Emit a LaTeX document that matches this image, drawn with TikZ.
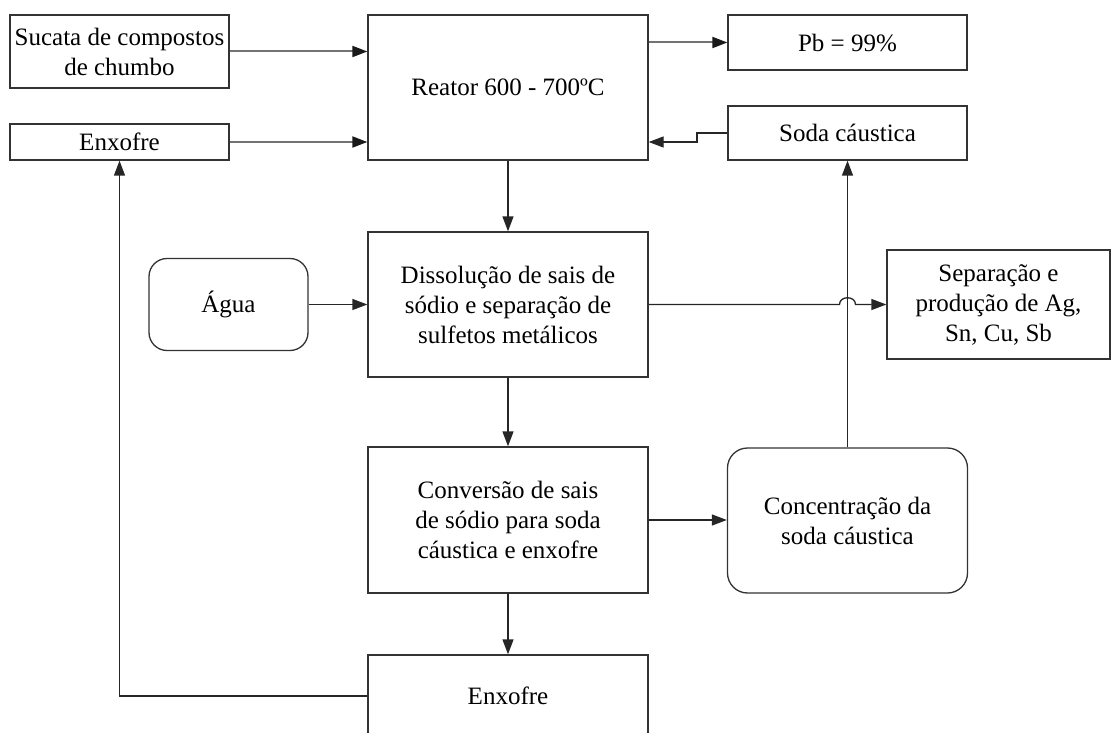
\documentclass[tikz,border=0pt]{standalone}
\usepackage{fontspec}
\setmainfont{Liberation Serif}
\usetikzlibrary{arrows.meta}
\begin{document}
\begin{tikzpicture}[x=1pt,y=-1pt,
  box/.style={draw=black!80, line width=1.3pt, align=center, inner sep=0pt, font=\fontsize{25}{30}\selectfont},
  rbox/.style={box, rounded corners=18pt},
  arr/.style={draw=black!85, line width=1.3pt, -{Triangle[length=15pt,width=11pt]}},
  garr/.style={draw=black!55, line width=2pt, -{Triangle[length=15pt,width=11pt,color=black!90]}},
]
\useasboundingbox (0,0) rectangle (1114,733);
\clip (0,0) rectangle (1114,733);

\node[box, minimum width=219pt, minimum height=73pt] (sucata) at (119.5,51.5) {Sucata de compostos\\de chumbo};
\node[box, minimum width=219pt, minimum height=36pt] (enx1) at (119.5,142) {Enxofre};
\node[box, minimum width=280pt, minimum height=145pt] (reator) at (508,87.5) {Reator 600 - 700ºC};
\node[box, minimum width=239pt, minimum height=55pt] (pb) at (847.5,42.5) {Pb = 99\%};
\node[box, minimum width=239pt, minimum height=54pt] (soda) at (847.5,133) {Soda cáustica};
\node[rbox, minimum width=159pt, minimum height=92pt] (agua) at (228.5,304.5) {Água};
\node[box, minimum width=280pt, minimum height=145pt] (diss) at (508,304.5) {Dissolução de sais de\\sódio e separação de\\sulfetos metálicos};
\node[box, minimum width=223pt, minimum height=109pt] (sep) at (998.5,304.5) {Separação e\\produção de Ag,\\Sn, Cu, Sb};
\node[box, minimum width=280pt, minimum height=146pt] (conv) at (508,520) {Conversão de sais\\de sódio para soda\\cáustica e enxofre};
\node[rbox, rounded corners=20pt, minimum width=240pt, minimum height=145pt] (conc) at (847.5,520.5) {Concentração da\\soda cáustica};
\node[box, minimum width=280pt, minimum height=82pt] (enx2) at (508,696) {Enxofre};

\draw[garr] (sucata.east) -- (sucata.east -| reator.west);
\draw[garr] (enx1.east) -- (enx1.east -| reator.west);
\draw[garr] (reator.east |- pb.west) -- (pb.west);
\coordinate (s1) at (697,133);
\coordinate (s2) at (697,142);
\draw[arr] (soda.west) -- (s1) -- (s2) -- (s2 -| reator.east);
\draw[arr] (reator.south) -- (diss.north);
\draw[arr] (agua.east) -- (diss.west);
\draw[arr] (diss.east) -- ([xshift=-8pt]conc.north |- diss.east) .. controls +(0,-9) and +(0,-9) .. ([xshift=8pt]conc.north |- diss.east) -- (sep.west);
\draw[arr] (diss.south) -- (conv.north);
\draw[arr] (conv.east) -- (conv.east -| conc.west);
\draw[arr] (conc.north) -- (soda.south);
\draw[arr] (conv.south) -- (enx2.north);
\draw[arr] (enx2.west) -| (enx1.south);
\end{tikzpicture}
\end{document}
